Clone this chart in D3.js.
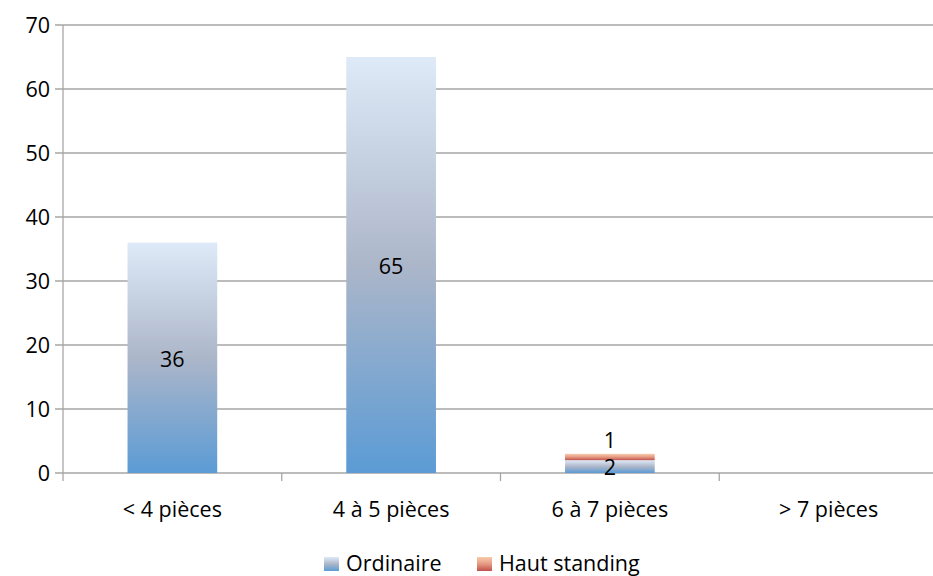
<!DOCTYPE html>
<html><head><meta charset="utf-8">
<script src="https://cdn.jsdelivr.net/npm/d3@7"></script>
<style>
html,body{margin:0;padding:0;background:#fff;}
svg{display:block;font-family:"Open Sans",sans-serif;}
</style></head>
<body>
<svg id="chart" width="933" height="576"></svg>
<script>
const categories = ["< 4 pièces", "4 à 5 pièces", "6 à 7 pièces", "> 7 pièces"];
const ordinaire = [36, 65, 2, 0];
const hautStanding = [0, 0, 1, 0];
const seriesNames = ["Ordinaire", "Haut standing"];
const yTicks = [0, 10, 20, 30, 40, 50, 60, 70];

const svg = d3.select("#chart");
const W = 933, H = 576;
const m = {left: 63, right: -5, top: 25, bottom: 103};
const FS = 21.5;

const x = d3.scaleBand().domain(categories).range([m.left, W - m.right]).paddingInner(0.59).paddingOuter(0.295);
const xOuter = d3.scaleBand().domain(categories).range([m.left, W - m.right]).padding(0);
const y = d3.scaleLinear().domain([0, 70]).range([H - m.bottom, m.top]);

const defs = svg.append("defs");
const gBlue = defs.append("linearGradient").attr("id", "gBlue").attr("x1", 0).attr("y1", 1).attr("x2", 0).attr("y2", 0);
gBlue.append("stop").attr("offset", "0%").attr("stop-color", "#5b9bd5");
gBlue.append("stop").attr("offset", "50%").attr("stop-color", "#acb6c9");
gBlue.append("stop").attr("offset", "100%").attr("stop-color", "#deeaf8");
const gRed = defs.append("linearGradient").attr("id", "gRed").attr("x1", 0).attr("y1", 1).attr("x2", 0).attr("y2", 0);
gRed.append("stop").attr("offset", "0%").attr("stop-color", "#c0504d");
gRed.append("stop").attr("offset", "50%").attr("stop-color", "#e59a82");
gRed.append("stop").attr("offset", "100%").attr("stop-color", "#f8cbad");

// horizontal gridlines
svg.append("g").selectAll("line").data(yTicks).join("line")
  .attr("x1", m.left - 8).attr("x2", W - m.right)
  .attr("y1", d => y(d)).attr("y2", d => y(d))
  .attr("stroke", "#a6a6a6").attr("stroke-width", 1.3);

// y axis
svg.append("line").attr("x1", m.left).attr("x2", m.left).attr("y1", y(70)).attr("y2", y(0) + 8)
  .attr("stroke", "#a6a6a6").attr("stroke-width", 1.3);
svg.append("g").selectAll("text").data(yTicks).join("text")
  .attr("x", 50).attr("y", d => y(d)).attr("dy", "0.36em")
  .attr("text-anchor", "end").attr("font-size", FS).attr("fill", "#000")
  .text(d => d);

// category separators
svg.append("g").selectAll("line").data(categories.slice(1)).join("line")
  .attr("x1", d => xOuter(d)).attr("x2", d => xOuter(d))
  .attr("y1", y(0)).attr("y2", y(0) + 8)
  .attr("stroke", "#a6a6a6").attr("stroke-width", 1.3);

// category labels
svg.append("g").selectAll("text").data(categories).join("text")
  .attr("x", d => x(d) + x.bandwidth() / 2).attr("y", 517)
  .attr("text-anchor", "middle").attr("font-size", FS).attr("fill", "#000")
  .text(d => d);

// stacked bars
const rows = categories.map((c, i) => ({cat: c, o: ordinaire[i], h: hautStanding[i]}));
const g = svg.append("g");
rows.forEach(r => {
  if (r.o > 0) {
    g.append("rect").attr("x", x(r.cat)).attr("width", x.bandwidth())
      .attr("y", y(r.o)).attr("height", y(0) - y(r.o)).attr("fill", "url(#gBlue)");
  }
  if (r.h > 0) {
    g.append("rect").attr("x", x(r.cat)).attr("width", x.bandwidth())
      .attr("y", y(r.o + r.h)).attr("height", y(r.o) - y(r.o + r.h)).attr("fill", "url(#gRed)");
  }
});

// value labels
rows.forEach(r => {
  const cx = x(r.cat) + x.bandwidth() / 2;
  if (r.o > 0) {
    g.append("text").attr("x", cx).attr("y", (y(0) + y(r.o)) / 2 + 1).attr("dy", "0.36em")
      .attr("text-anchor", "middle").attr("font-size", FS).attr("fill", "#000").text(r.o);
  }
  if (r.h > 0) {
    g.append("text").attr("x", cx).attr("y", y(r.o + r.h) - 14).attr("dy", "0.36em")
      .attr("text-anchor", "middle").attr("font-size", FS).attr("fill", "#000").text(r.h);
  }
});

// legend
const legend = svg.append("g");
const items = [{name: seriesNames[0], fill: "url(#gBlue)", x: 324}, {name: seriesNames[1], fill: "url(#gRed)", x: 477}];
items.forEach(it => {
  legend.append("rect").attr("x", it.x).attr("y", 557).attr("width", 15).attr("height", 14).attr("fill", it.fill);
  legend.append("text").attr("x", it.x + 22).attr("y", 571)
    .attr("font-size", FS).attr("fill", "#000").text(it.name);
});
</script>
</body></html>
